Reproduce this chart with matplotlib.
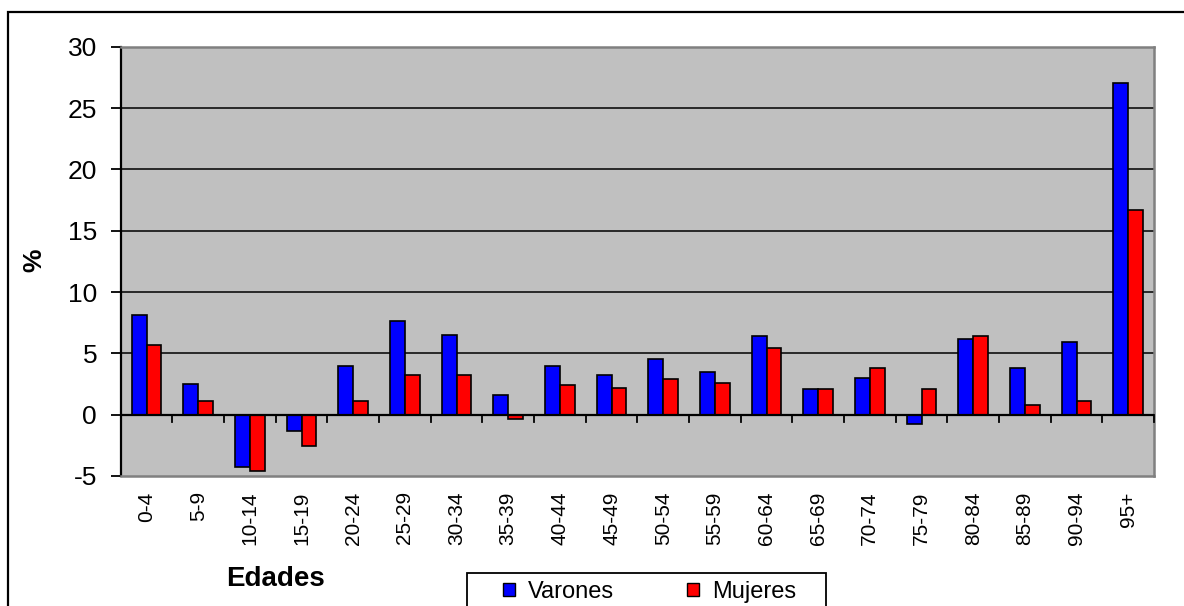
import matplotlib.pyplot as plt
from matplotlib.patches import Rectangle
import numpy as np

edades = ['0-4', '5-9', '10-14', '15-19', '20-24', '25-29', '30-34', '35-39',
          '40-44', '45-49', '50-54', '55-59', '60-64', '65-69', '70-74',
          '75-79', '80-84', '85-89', '90-94', '95+']
varones = [8.1, 2.5, -4.3, -1.3, 4.0, 7.6, 6.5, 1.6, 4.0, 3.2,
           4.5, 3.5, 6.4, 2.1, 3.0, -0.8, 6.2, 3.8, 5.9, 27.0]
mujeres = [5.7, 1.1, -4.6, -2.55, 1.1, 3.2, 3.2, -0.35, 2.4, 2.2,
           2.9, 2.55, 5.4, 2.1, 3.8, 2.1, 6.4, 0.8, 1.1, 16.7]

plt.rcParams['font.family'] = ['Liberation Sans', 'DejaVu Sans']
plt.rcParams['axes.unicode_minus'] = False

W, H = 1184, 606
fig = plt.figure(figsize=(W / 100, H / 100), dpi=100)
ax = fig.add_axes([120.7 / W, 1 - 476 / H, (1154 - 120.7) / W, (476 - 46.7) / H])
ax.set_facecolor('#c0c0c0')

x = np.arange(len(edades))
w = 0.286
ax.bar(x - w / 2, varones, w, color='#0000ff', edgecolor='black', linewidth=1.2,
       label='Varones', zorder=3)
ax.bar(x + w / 2, mujeres, w, color='#ff0000', edgecolor='black', linewidth=1.2,
       label='Mujeres', zorder=3)

ax.set_xlim(-0.5, len(edades) - 0.5)
ax.set_ylim(-5, 30)
ax.set_yticks(range(-5, 31, 5))
ax.tick_params(axis='y', direction='out', length=7, width=1.3, labelsize=19, pad=10)
for v in range(5, 30, 5):
    ax.axhline(v, color='black', linewidth=1.1, zorder=1)
ax.axhline(0, color='black', linewidth=1.6, zorder=4)

# tick marks on the zero line, between categories
trans = ax.get_xaxis_transform()
y0 = 5 / 35
for b in np.arange(-0.5, len(edades), 1.0):
    ax.plot([b, b], [y0, y0 - 0.016], transform=trans,
            color='black', linewidth=1.3, zorder=4, clip_on=False)

ax.set_xticks(x)
ax.set_xticklabels(edades, rotation=90, fontsize=15)
ax.tick_params(axis='x', length=0, pad=11)

for s in ['top', 'right', 'bottom']:
    ax.spines[s].set_color('#808080')
    ax.spines[s].set_linewidth(1.8)
ax.spines['left'].set_color('black')
ax.spines['left'].set_linewidth(1.6)

fig.text(34 / W, 1 - 260 / H, '%', rotation=90, fontsize=19, fontweight='bold',
         ha='center', va='center')
fig.text(276 / W, 1 - 579 / H, 'Edades', fontsize=20, fontweight='bold',
         ha='center', va='center')

leg = ax.legend(loc='center left', bbox_to_anchor=(503 / W, 1 - 592 / H),
                bbox_transform=fig.transFigure, ncol=2, fontsize=17,
                frameon=False, handlelength=0.5, handleheight=0.5,
                handletextpad=0.55, columnspacing=3.1, borderpad=0,
                borderaxespad=0)
for h in leg.legend_handles:
    h.set_linewidth(1.0)

# legend box (runs past the bottom edge, as in the original)
fig.patches.append(Rectangle((467 / W, -0.1), (826 - 467) / W, 1 - 573 / H + 0.1,
                             transform=fig.transFigure, fill=False,
                             edgecolor='black', linewidth=1.3))

# outer chart border
fig.patches.append(Rectangle((8 / W, -0.1), 1.2, 1 - 12 / H + 0.1,
                             transform=fig.transFigure, fill=False,
                             edgecolor='black', linewidth=1.6))

fig.savefig('out.png', dpi=100)
